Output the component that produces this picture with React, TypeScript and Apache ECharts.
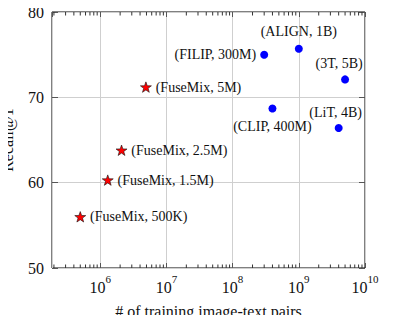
import React, { useEffect, useRef } from "react";
import * as echarts from "echarts";

const fuseNames = ["(FuseMix, 500K)", "(FuseMix, 1.5M)", "(FuseMix, 2.5M)", "(FuseMix, 5M)"];
const fuseX = [5e5, 1.3e6, 2.1e6, 4.9e6];
const fuseY = [56.0, 60.3, 63.8, 71.2];

const baseNames = ["(FILIP, 300M)", "(ALIGN, 1B)", "(3T, 5B)", "(CLIP, 400M)", "(LiT, 4B)"];
const baseX = [3e8, 1e9, 5e9, 4e8, 4e9];
const baseY = [75.0, 75.7, 72.1, 68.7, 66.4];

const yTicks = [50, 60, 70, 80];
const xMin = 1.87e5;
const xMax = 1e10;
const minorMultipliers = [2, 3, 4, 5, 6, 7, 8, 9];
const decades = [1e5, 1e6, 1e7, 1e8, 1e9];

const FONT = "'Liberation Serif', 'DejaVu Serif', serif";
const TXT = "#111";

const STAR =
  "path://M50,0 L61.76,33.82 L97.55,34.55 L69.02,56.18 L79.39,90.45 L50,70 L20.61,90.45 L30.98,56.18 L2.45,34.55 L38.24,33.82 Z";

const baseLabelCfg: any[] = [
  { position: "left", distance: 4 },
  { position: "top", distance: 6 },
  { position: "top", distance: 5, offset: [-6, 0] },
  { position: "bottom", distance: 7 },
  { position: "top", distance: 5, offset: [-3, 0] },
];

export default function App() {
  const ref = useRef<HTMLDivElement>(null);
  useEffect(() => {
    if (!ref.current) return;
    const chart = echarts.init(ref.current, null, { renderer: "svg" });
    const minorData: number[][] = [];
    decades.forEach((d) =>
      minorMultipliers.forEach((m) => {
        const v = d * m;
        if (v > xMin && v < xMax) minorData.push([v, yTicks[0]]);
      })
    );
    const labelStyle = { fontFamily: FONT, fontSize: 14, color: TXT };
    const xLabelFmt = (val: number) => {
      const l = Math.log10(val);
      const e = Math.round(l);
      if (Math.abs(l - e) > 1e-6) return "";
      return `{b|10}{s|${e}}`;
    };
    chart.setOption({
      animation: false,
      grid: {
        left: 52,
        top: 12,
        width: 313,
        height: 256,
        show: true,
        borderColor: "#000",
        borderWidth: 1,
        backgroundColor: "transparent",
        containLabel: false,
        outerBoundsMode: "none",
      },
      xAxis: [
        {
          type: "log",
          logBase: 10,
          min: xMin,
          max: xMax,
          name: "# of training image-text pairs",
          nameLocation: "middle",
          nameGap: 35,
          nameTextStyle: { fontFamily: FONT, fontSize: 16, color: TXT },
          axisLine: { show: false },
          axisTick: { show: true, inside: true, length: 5, lineStyle: { color: "#555" } },
          splitLine: { show: true, lineStyle: { color: "#cfcfcf", width: 1 } },
          minorTick: { show: false },
          minorSplitLine: { show: false },
          axisLabel: {
            showMinLabel: false,
            margin: 5,
            formatter: xLabelFmt,
            rich: {
              b: { fontFamily: FONT, fontSize: 16, color: TXT, lineHeight: 22, verticalAlign: "bottom" },
              s: { fontFamily: FONT, fontSize: 11, color: TXT, lineHeight: 12, verticalAlign: "top" },
            },
          },
        },
        {
          type: "log",
          logBase: 10,
          min: xMin,
          max: xMax,
          position: "top",
          axisLine: { show: false },
          axisTick: { show: true, inside: true, length: 5, lineStyle: { color: "#555" } },
          splitLine: { show: false },
          axisLabel: { show: false },
        },
      ],
      yAxis: [
        {
          type: "value",
          min: yTicks[0],
          max: yTicks[yTicks.length - 1],
          interval: 10,
          name: "Recall@1",
          nameLocation: "middle",
          nameGap: 37,
          nameTextStyle: { fontFamily: FONT, fontSize: 16, color: TXT },
          axisLine: { show: false },
          axisTick: { show: true, inside: true, length: 6, lineStyle: { color: "#555" } },
          splitLine: { show: true, lineStyle: { color: "#cfcfcf", width: 1 } },
          axisLabel: { margin: 8, fontFamily: FONT, fontSize: 16, color: TXT },
        },
        {
          type: "value",
          min: yTicks[0],
          max: yTicks[yTicks.length - 1],
          interval: 10,
          position: "right",
          axisLine: { show: false },
          axisTick: { show: true, inside: true, length: 6, lineStyle: { color: "#555" } },
          splitLine: { show: false },
          axisLabel: { show: false },
        },
      ],
      series: [
        {
          type: "custom",
          xAxisIndex: 0,
          yAxisIndex: 0,
          silent: true,
          clip: false,
          z: 5,
          data: minorData,
          renderItem: (params: any, api: any) => {
            const v = api.value(0);
            const b = api.coord([v, yTicks[0]]);
            const t = api.coord([v, yTicks[yTicks.length - 1]]);
            const st = { stroke: "#333", lineWidth: 1, fill: null };
            return {
              type: "group",
              children: [
                { type: "line", shape: { x1: b[0], y1: b[1], x2: b[0], y2: b[1] - 3.5 }, style: st },
                { type: "line", shape: { x1: t[0], y1: t[1], x2: t[0], y2: t[1] + 3.5 }, style: st },
              ],
            };
          },
        },
        {
          type: "scatter",
          symbol: STAR,
          symbolKeepAspect: true,
          symbolSize: 11,
          z: 10,
          itemStyle: { color: "#ff0000", borderColor: "#111", borderWidth: 0.6, opacity: 1 },
          label: { show: true, position: "right", distance: 4, ...labelStyle, formatter: (p: any) => p.name },
          data: fuseX.map((x, i) => ({ name: fuseNames[i], value: [x, fuseY[i]] })),
        },
        {
          type: "scatter",
          symbol: "circle",
          symbolSize: 8,
          z: 10,
          itemStyle: { color: "#0000ff", opacity: 1 },
          label: { show: true, ...labelStyle, formatter: (p: any) => p.name },
          data: baseX.map((x, i) => ({
            name: baseNames[i],
            value: [x, baseY[i]],
            label: { show: true, ...labelStyle, ...baseLabelCfg[i], formatter: (p: any) => p.name },
          })),
        },
      ],
    });
    return () => chart.dispose();
  }, []);
  return <div ref={ref} style={{ width: 395, height: 323, margin: -8 }} />;
}
